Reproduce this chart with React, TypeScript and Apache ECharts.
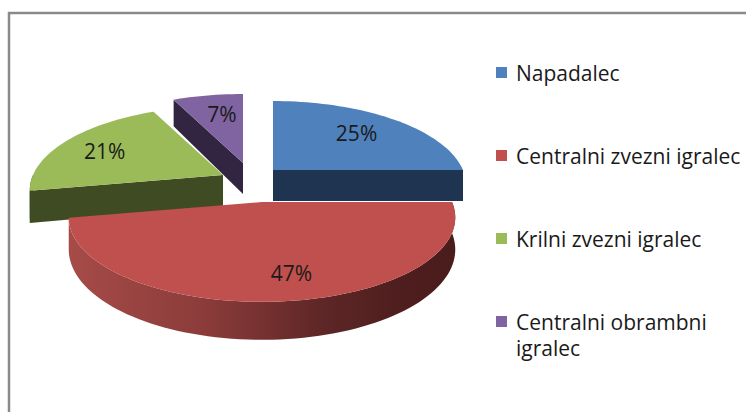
import React, { useEffect, useRef } from "react";
import * as echarts from "echarts";

// ---- data ----
const categories = [
  "Napadalec",
  "Centralni zvezni igralec",
  "Krilni zvezni igralec",
  "Centralni obrambni igralec",
];
const values = [25, 47, 21, 7];
const legendLabels = [
  "Napadalec",
  "Centralni zvezni igralec",
  "Krilni zvezni igralec",
  "Centralni obrambni\nigralec",
];

// ---- styles ----
const topColors = ["#4F81BD", "#C0504D", "#9BBB59", "#8064A2"];
const sideColors = ["#1F3450", "#4F1E1E", "#3E4B23", "#322542"];
const FONT = "'Open Sans', Lato, sans-serif";
const FONT_SIZE = 21;

// ---- layout (3D projection of the pie) ----
const R = 190; // horizontal radius
const RK = 81.6; // vertical radius (before perspective)
const P = 0.183; // perspective factor
const H = 31; // thickness
const BASE = [258, 185];
const OFFSETS = [
  [15, -15],
  [4, 17],
  [-35, -10],
  [-15, -22],
];
const DRAW_RANK = [2, 3, 1, 0];
const LABEL_F = [0.65, 0.75, 0.65, 0.65];
const LABEL_NUDGE = [
  [3, -2],
  [14, 0],
  [-14, -1],
  [3, -3],
];
const LEGEND_X = 496;
const LEGEND_Y0 = 72.5;
const LEGEND_STEP = 83;

function proj(cx: number, cy: number, deg: number, f: number, z: number) {
  const th = (deg * Math.PI) / 180;
  const u = f * Math.sin(th);
  const v = f * Math.cos(th);
  const s = 1 / (1 + P * v);
  return [cx + R * u * s, cy - RK * v * s + z * H * s];
}

function arc(cx: number, cy: number, a0: number, a1: number, z: number) {
  const n = Math.max(6, Math.ceil(Math.abs(a1 - a0) / 2));
  const pts: number[][] = [];
  for (let i = 0; i <= n; i++) {
    pts.push(proj(cx, cy, a0 + ((a1 - a0) * i) / n, 1, z));
  }
  return pts;
}

export default function App() {
  const ref = useRef<HTMLDivElement>(null);
  useEffect(() => {
    if (!ref.current) return;
    const chart = echarts.init(ref.current, undefined, { renderer: "svg" });
    const total = values.reduce((a, b) => a + b, 0);

    const renderItem = (params: any, api: any) => {
      const idx = params.dataIndex;
      const val = api.value(0);
      let start = 0;
      for (let i = 0; i < idx; i++) start += values[i];
      const a0 = (start / total) * 360;
      const a1 = ((start + val) / total) * 360;
      const cx = BASE[0] + OFFSETS[idx][0];
      const cy = BASE[1] + OFFSETS[idx][1];
      const zBase = DRAW_RANK[idx] * 10;
      const children: any[] = [];

      // radial face at a0
      if (Math.cos(((a0 - 90) * Math.PI) / 180) < -1e-6) {
        children.push({
          type: "polygon",
          z2: zBase,
          shape: {
            points: [
              proj(cx, cy, a0, 0, 0),
              proj(cx, cy, a0, 1, 0),
              proj(cx, cy, a0, 1, 1),
              proj(cx, cy, a0, 0, 1),
            ],
          },
          style: { fill: sideColors[idx] },
        });
      }
      // radial face at a1
      if (Math.cos(((a1 + 90) * Math.PI) / 180) < -1e-6) {
        children.push({
          type: "polygon",
          z2: zBase,
          shape: {
            points: [
              proj(cx, cy, a1, 0, 0),
              proj(cx, cy, a1, 1, 0),
              proj(cx, cy, a1, 1, 1),
              proj(cx, cy, a1, 0, 1),
            ],
          },
          style: { fill: sideColors[idx] },
        });
      }
      // outer curved side (front half only)
      const t0 = Math.max(a0, 90);
      const t1 = Math.min(a1, 270);
      if (t1 > t0) {
        const top = arc(cx, cy, t0, t1, 0);
        const bottom = arc(cx, cy, t1, t0, 1);
        const wide = t1 - t0 > 60;
        children.push({
          type: "polygon",
          z2: zBase + 1,
          shape: { points: top.concat(bottom) },
          style: {
            fill: wide
              ? new echarts.graphic.LinearGradient(0, 0, 1, 0, [
                  { offset: 0, color: "#A64B48" },
                  { offset: 0.35, color: "#8B3C3A" },
                  { offset: 0.65, color: "#5F2727" },
                  { offset: 0.85, color: "#4F1E1E" },
                  { offset: 1, color: "#4A1C1C" },
                ])
              : sideColors[idx],
          },
        });
      }
      // top face
      children.push({
        type: "polygon",
        z2: zBase + 2,
        shape: { points: [proj(cx, cy, a0, 0, 0)].concat(arc(cx, cy, a0, a1, 0)) },
        style: { fill: topColors[idx] },
      });
      // label
      const mid = (a0 + a1) / 2;
      const lp = proj(cx, cy, mid, LABEL_F[idx], 0);
      children.push({
        type: "text",
        z2: 100,
        x: lp[0] + LABEL_NUDGE[idx][0],
        y: lp[1] + LABEL_NUDGE[idx][1],
        style: {
          text: Math.round((val / total) * 100) + "%",
          fill: "#1a1a1a",
          fontSize: FONT_SIZE,
          fontFamily: FONT,
          align: "center",
          verticalAlign: "middle",
        },
      });
      return { type: "group", children };
    };

    const legendGraphics: any[] = [];
    categories.forEach((name, i) => {
      const yc = LEGEND_Y0 + i * LEGEND_STEP;
      legendGraphics.push({
        type: "rect",
        shape: { x: LEGEND_X, y: yc - 5.5, width: 11, height: 11 },
        style: { fill: topColors[i] },
        z: 5,
      });
      legendGraphics.push({
        type: "text",
        x: LEGEND_X + 20,
        y: yc - 13,
        style: {
          text: legendLabels[i],
          fill: "#1a1a1a",
          fontSize: FONT_SIZE,
          fontFamily: FONT,
          lineHeight: 26,
          align: "left",
          verticalAlign: "top",
        },
        z: 5,
      });
    });

    chart.setOption({
      animation: false,
      backgroundColor: "#ffffff",
      graphic: [
        {
          type: "rect",
          shape: { x: 9, y: 13, width: 760, height: 420 },
          style: { fill: "#ffffff", stroke: "#8a8a8a", lineWidth: 2.5 },
          z: 0,
          silent: true,
        },
        ...legendGraphics,
      ],
      series: [
        {
          type: "custom",
          coordinateSystem: "none",
          silent: true,
          z: 3,
          renderItem,
          data: values.map((v, i) => ({ name: categories[i], value: [v] })),
        },
      ],
    });
    return () => chart.dispose();
  }, []);
  return (
    <div
      ref={ref}
      style={{ position: "fixed", left: 0, top: 0, width: 746, height: 412 }}
    />
  );
}
